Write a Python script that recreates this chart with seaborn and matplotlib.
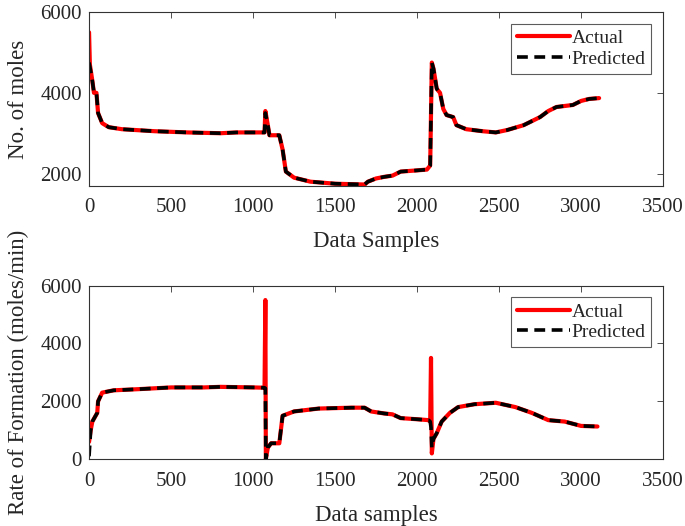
import numpy as np
import pandas as pd
import matplotlib
matplotlib.use('Agg')
import matplotlib.pyplot as plt
import seaborn as sns

# ── Data ──────────────────────────────────────────────────────────────────────
moles_x = [0, 5, 20, 30, 45, 55, 80, 120, 200, 400, 600, 800, 900, 1000, 1070,
           1075, 1090, 1100, 1160, 1180, 1200, 1250, 1350, 1500, 1680, 1700, 1750,
           1800, 1850, 1900, 2000, 2060, 2080, 2090, 2100, 2120, 2140, 2160, 2180,
           2220, 2240, 2300, 2400, 2480, 2550, 2650, 2750, 2800, 2850, 2950, 3000,
           3050, 3110]
moles_actual = [5500, 4700, 4300, 4000, 4000, 3500, 3250, 3150, 3100, 3050, 3020,
                3000, 3020, 3020, 3020, 3550, 3200, 2950, 2950, 2600, 2050, 1900,
                1800, 1750, 1730, 1800, 1880, 1920, 1950, 2050, 2080, 2100, 2200,
                4750, 4600, 4100, 4000, 3600, 3450, 3400, 3200, 3100, 3050, 3020,
                3080, 3200, 3400, 3550, 3650, 3700, 3800, 3850, 3870]
moles_pred = [4750, 4650, 4300, 4000, 4000, 3500, 3250, 3150, 3100, 3050, 3020,
              3000, 3020, 3020, 3020, 3500, 3200, 2950, 2950, 2600, 2050, 1900,
              1800, 1750, 1730, 1800, 1880, 1920, 1950, 2050, 2080, 2100, 2200,
              4750, 4600, 4100, 4000, 3600, 3450, 3400, 3200, 3100, 3050, 3020,
              3080, 3200, 3400, 3550, 3650, 3700, 3800, 3850, 3870]

rate_x = [0, 10, 20, 40, 50, 55, 80, 150, 300, 500, 700, 800, 1000, 1070, 1075,
          1078, 1090, 1110, 1160, 1180, 1250, 1400, 1600, 1680, 1720, 1800, 1850,
          1900, 2000, 2070, 2080, 2085, 2090, 2100, 2120, 2150, 2200, 2250, 2350,
          2480, 2600, 2700, 2800, 2900, 3000, 3100]
rate_actual = [600, 1000, 1300, 1500, 1600, 2000, 2300, 2380, 2420, 2480, 2480,
               2500, 2480, 2470, 5500, 0, 400, 550, 550, 1500, 1650, 1750, 1780,
               1780, 1650, 1580, 1550, 1420, 1380, 1350, 1300, 3500, 200, 700, 900,
               1300, 1600, 1800, 1900, 1950, 1800, 1600, 1350, 1300, 1150, 1130]
rate_pred = [100, 1000, 1300, 1500, 1600, 2000, 2300, 2380, 2420, 2480, 2480,
             2500, 2480, 2470, 2450, 0, 400, 550, 550, 1500, 1650, 1750, 1780,
             1780, 1650, 1580, 1550, 1420, 1380, 1350, 1300, 1100, 400, 700, 900,
             1300, 1600, 1800, 1900, 1950, 1800, 1600, 1350, 1300, 1150, 1130]

# ── Style ─────────────────────────────────────────────────────────────────────
sns.set_style('white')
plt.rcParams['font.family'] = ['Liberation Serif', 'DejaVu Serif']
plt.rcParams['xtick.direction'] = 'in'
plt.rcParams['ytick.direction'] = 'in'
plt.rcParams['xtick.top'] = True
plt.rcParams['ytick.right'] = True
plt.rcParams['axes.edgecolor'] = '#333333'
plt.rcParams['axes.linewidth'] = 0.8


def panel(ax, x, actual, pred, ylim, yticks, ylabel, xlabel):
    df = pd.DataFrame({'x': x, 'Actual': actual, 'Predicted': pred})
    sns.lineplot(data=df, x='x', y='Actual', ax=ax, color='#ff0000',
                 lw=3, label='Actual', sort=False)
    sns.lineplot(data=df, x='x', y='Predicted', ax=ax, color='black',
                 lw=2.6, ls=(0, (3, 1.8)), label='Predicted', sort=False)
    ax.set_xlim(0, 3500)
    ax.set_ylim(*ylim)
    ax.set_yticks(yticks)
    ax.set_xticks(range(0, 3501, 500))
    ax.set_ylabel(ylabel, fontsize=16.5, labelpad=8)
    ax.set_xlabel(xlabel, fontsize=16.5, labelpad=10)
    ax.tick_params(labelsize=15, length=4, width=0.6, color='#333333')
    ax.tick_params(axis='x', pad=9)
    ax.tick_params(axis='y', pad=5)
    leg = ax.legend(loc='upper right', fontsize=14, frameon=True, fancybox=False,
                    handlelength=2.7, handletextpad=0.1, borderpad=0.3,
                    labelspacing=0.15, borderaxespad=0.6)
    leg.get_frame().set_edgecolor('#333333')
    leg.get_frame().set_linewidth(0.8)


fig, axes = plt.subplots(2, 1, figsize=(6.85, 5.26), dpi=100)
fig.subplots_adjust(left=0.13, right=0.968, top=0.977, bottom=0.127, hspace=0.575)

panel(axes[0], moles_x, moles_actual, moles_pred, (1700, 6000),
      [2000, 4000, 6000], 'No. of moles', 'Data Samples')
panel(axes[1], rate_x, rate_actual, rate_pred, (0, 6000),
      [0, 2000, 4000, 6000], 'Rate of Formation (moles/min)', 'Data samples')

plt.savefig('out.png', dpi=100)
plt.close()
